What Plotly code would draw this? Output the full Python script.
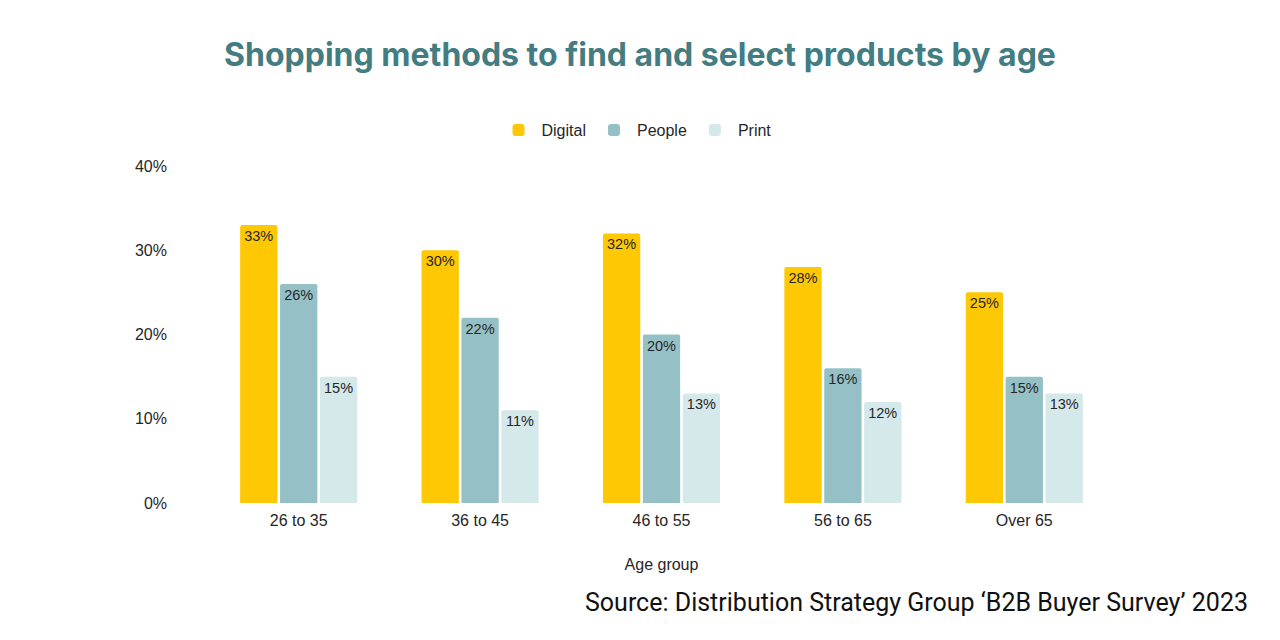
import plotly.graph_objects as go


age_groups = ['26 to 35', '36 to 45', '46 to 55', '56 to 65', 'Over 65']

digital = [33, 30, 32, 28, 25]
people  = [26, 22, 20, 16, 15]
printed = [15, 11, 13, 12, 13]

y_ticks = [0, 10, 20, 30, 40]
y_tick_labels = ['0%', '10%', '20%', '30%', '40%']

series = [
    ('Digital', digital, '#FFC805'),
    ('People',  people,  '#95C1C6'),
    ('Print',   printed, '#D5E8EA'),
]

FONT = 'Liberation Sans'
TEXT = '#262626'


traces = []

for name, values, colour in series:

    traces.append(
        go.Bar(
            name=name,
            x=age_groups,
            y=values,
            marker=dict(color=colour, cornerradius=2, line=dict(width=0)),
            text=[f'{v}%' for v in values],
            textposition='inside',
            insidetextanchor='end',
            textangle=0,
            textfont=dict(family=FONT, size=14.5, color=TEXT),
            hoverinfo='skip'
        )
    )


# page is drawn with an 8px body offset, so margins are shifted to compensate
layout = go.Layout(

    width=1280,
    height=640,
    paper_bgcolor='white',
    plot_bgcolor='white',
    margin=dict(l=200, r=173, t=158, b=145),

    barmode='group',
    bargap=0.34,
    bargroupgap=0.065,

    title=dict(
        text='<b>Shopping methods to find and select products by age</b>',
        x=632 / 1280, xanchor='center',
        y=1 - 47 / 640, yanchor='middle',
        font=dict(family='Inter', size=32, color='#437D82')
    ),

    legend=dict(
        orientation='h',
        x=(628 - 200) / 907, xanchor='center',
        y=1 + (158 - 122) / 337, yanchor='middle',
        font=dict(family=FONT, size=16, color=TEXT),
        itemwidth=36,
        tracegroupgap=0
    ),

    xaxis=dict(
        range=[-0.5, 4.5],
        showgrid=False,
        showline=False,
        zeroline=False,
        ticks='',
        ticklabelstandoff=6,
        tickfont=dict(family=FONT, size=16, color=TEXT),
        title=dict(text='Age group', font=dict(family=FONT, size=16, color=TEXT), standoff=30)
    ),

    yaxis=dict(
        range=[0, 40],
        tickvals=y_ticks,
        ticktext=y_tick_labels,
        showgrid=False,
        showline=False,
        zeroline=False,
        ticks='',
        ticklabelstandoff=40,
        tickfont=dict(family=FONT, size=16, color=TEXT)
    ),

    annotations=[
        dict(
            text='Source: Distribution Strategy Group \u2018B2B Buyer Survey\u2019 2023',
            xref='paper', yref='paper',
            x=(1242 - 200) / 907, xanchor='right',
            y=-(594 - 495) / 337, yanchor='middle',
            showarrow=False,
            font=dict(family='Roboto', size=25, color='#111111')
        )
    ]

)


fig = go.Figure(data=traces, layout=layout)
fig.write_html('out.html')
